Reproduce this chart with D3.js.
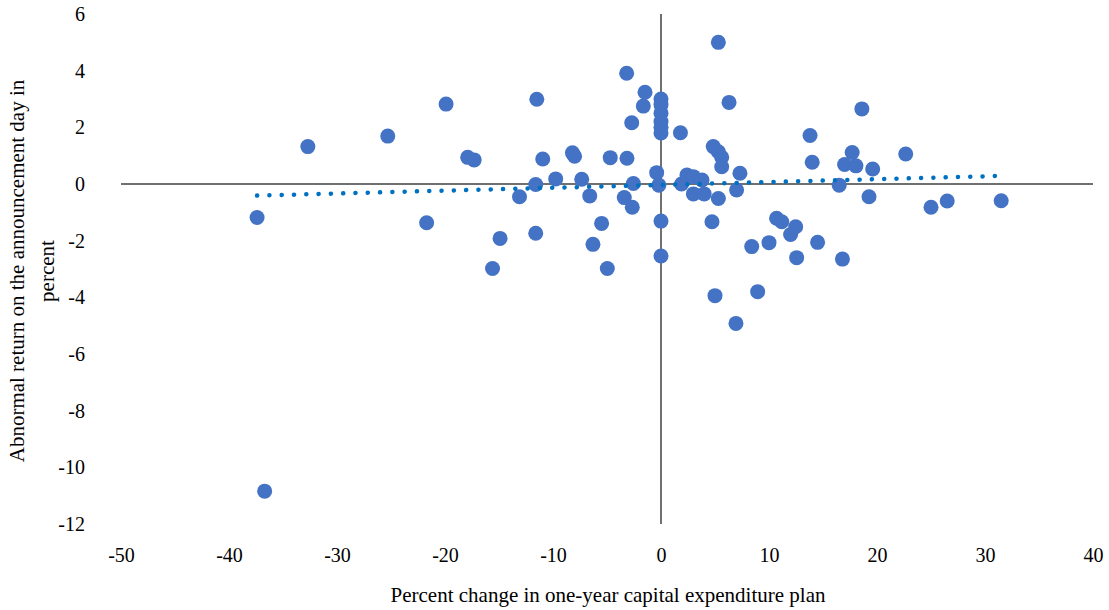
<!DOCTYPE html>
<html>
<head>
<meta charset="utf-8">
<script src="https://cdn.jsdelivr.net/npm/d3@7"></script>
</head>
<body style="margin:0">
<svg id="chart" width="1109" height="610"></svg>
<script>
// Percent change in one-year capex plan (x) vs. announcement-day abnormal return (y)
const capexChange = [
  -37.4, -36.7, -32.7, -25.3, -21.7, -19.9, -17.9, -17.3, -15.6, -14.9,
  -13.1, -11.6, -11.6, -11.5, -10.95, -9.75, -8.2, -8.0, -7.34, -6.6,
  -6.3, -5.5, -4.97, -4.7, -3.4, -3.18, -3.15, -2.71, -2.66, -2.56,
  -1.64, -1.48, -0.4, -0.2,
  0, 0, 0, 0, 0, 0, 0, 0,
  1.8, 1.9, 2.4, 3.0, 3.8, 3.0, 4.0, 4.72, 4.84, 5.0,
  5.31, 5.31, 5.31, 5.62, 5.62, 6.3, 6.94, 7.0, 7.31, 8.4,
  8.95, 10.0, 10.7, 11.18, 12.0, 12.47, 12.56, 13.8, 14.0, 14.5,
  16.5, 16.8, 17.0, 17.7, 18.05, 18.6, 19.26, 19.6, 22.66, 25.0,
  26.5, 31.5
];
const abnormalReturn = [
  -1.18, -10.84, 1.32, 1.69, -1.37, 2.82, 0.94, 0.85, -2.98, -1.92,
  -0.45, -0.02, -1.74, 2.99, 0.88, 0.18, 1.1, 0.98, 0.17, -0.42,
  -2.13, -1.39, -2.98, 0.93, -0.48, 3.91, 0.91, 2.16, -0.82, 0.02,
  2.75, 3.24, 0.4, -0.04,
  3.0, 2.8, 2.5, 2.2, 2.0, 1.8, -1.31, -2.54,
  1.81, 0.0, 0.32, 0.26, 0.14, -0.35, -0.35, -1.33, 1.32, -3.94,
  5.0, 1.14, -0.51, 0.94, 0.61, 2.88, -4.92, -0.21, 0.38, -2.21,
  -3.8, -2.07, -1.21, -1.33, -1.78, -1.51, -2.6, 1.71, 0.77, -2.06,
  -0.04, -2.65, 0.69, 1.11, 0.64, 2.65, -0.45, 0.53, 1.06, -0.82,
  -0.6, -0.59
];
// Linear trendline as reported: [slope, intercept]
const trendCoef = [0.0101, -0.032];
const xTicks = [-50, -40, -30, -20, -10, 0, 10, 20, 30, 40];
const yTicks = [6, 4, 2, 0, -2, -4, -6, -8, -10, -12];
const xTitle = "Percent change in one-year capital expenditure plan";
const yTitleLines = ["Abnormal return on the announcement day in", "percent"];

const FONT = '"Liberation Serif", "Times New Roman", serif';
const svg = d3.select("#chart").style("font-family", FONT);

const x = d3.scaleLinear().domain([-50, 40]).range([121, 1093]);
const y = d3.scaleLinear().domain([-12, 6]).range([524, 14]);

const axisColor = "#404040";
const textColor = "#000000";
const fmt = d => String(d);  // plain hyphen-minus labels

// Tick labels (no tick marks, no domain line)
const gx = svg.append("g")
  .attr("transform", `translate(0,${y(-12)})`)
  .call(d3.axisBottom(x).tickValues(xTicks).tickSize(0).tickPadding(24).tickFormat(fmt));
gx.attr("font-family", null).attr("font-size", null);
gx.select(".domain").remove();
gx.selectAll("text")
  .style("font-family", FONT).style("font-size", "20px").attr("fill", textColor);

const gy = svg.append("g")
  .attr("transform", `translate(${x(-50)},0)`)
  .call(d3.axisLeft(y).tickValues(yTicks).tickSize(0).tickPadding(36).tickFormat(fmt));
gy.attr("font-family", null).attr("font-size", null);
gy.select(".domain").remove();
gy.selectAll("text")
  .style("font-family", FONT).style("font-size", "20px").attr("fill", textColor);

// Axis lines crossing at the origin
svg.append("line")
  .attr("x1", x(-50)).attr("x2", x(40))
  .attr("y1", y(0)).attr("y2", y(0))
  .attr("stroke", axisColor).attr("stroke-width", 1.5);
svg.append("line")
  .attr("x1", x(0)).attr("x2", x(0))
  .attr("y1", y(6)).attr("y2", y(-12))
  .attr("stroke", axisColor).attr("stroke-width", 1.5);

// Scatter points
const points = capexChange.map((d, i) => ({ x: d, y: abnormalReturn[i] }));
svg.append("g")
  .selectAll("circle")
  .data(points)
  .join("circle")
  .attr("cx", d => x(d.x))
  .attr("cy", d => y(d.y))
  .attr("r", 7.5)
  .attr("fill", "#4472C4");

// Dotted linear trendline across the data range
const [xmin, xmax] = d3.extent(points, d => d.x);
const trend = [xmin, xmax].map(v => ({ x: v, y: trendCoef[1] + trendCoef[0] * v }));

svg.append("path")
  .datum(trend)
  .attr("d", d3.line().x(d => x(d.x)).y(d => y(d.y)))
  .attr("fill", "none")
  .attr("stroke", "#0070C0")
  .attr("stroke-width", 4.5)
  .attr("stroke-linecap", "round")
  .attr("stroke-dasharray", "0.1 12.2");

// Axis titles
svg.append("text")
  .attr("x", 608).attr("y", 602)
  .attr("text-anchor", "middle")
  .style("font-family", FONT).style("font-size", "21px")
  .attr("fill", textColor)
  .text(xTitle);

const yt = svg.append("text")
  .attr("transform", "translate(24,271) rotate(-90)")
  .attr("text-anchor", "middle")
  .style("font-family", FONT).style("font-size", "21px")
  .attr("fill", textColor);
yTitleLines.forEach((line, i) => {
  yt.append("tspan").attr("x", 0).attr("dy", i === 0 ? 0 : 30).text(line);
});
</script>
</body>
</html>
